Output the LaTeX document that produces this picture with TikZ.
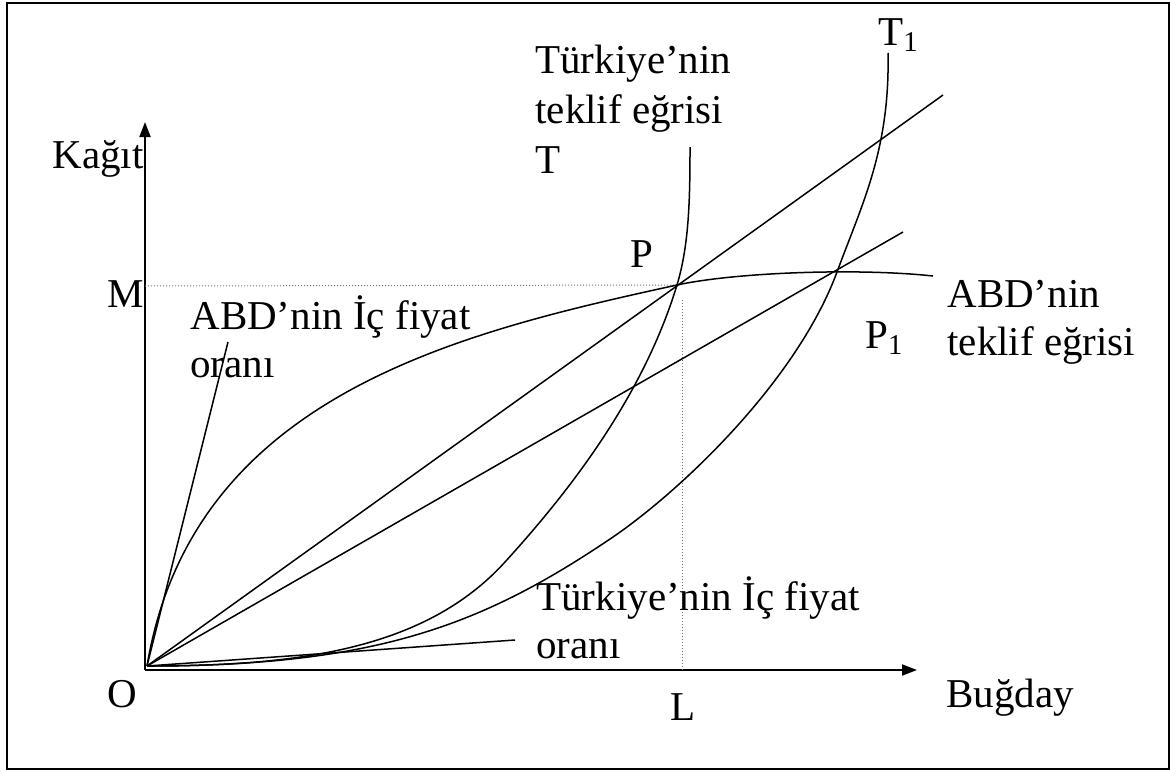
\documentclass[tikz,border=0pt]{standalone}
\usepackage{fontspec}
\setmainfont{Liberation Serif}
\usetikzlibrary{arrows.meta}

\begin{document}
\begin{tikzpicture}[
    x=0.5pt, y=-0.5pt,
    font=\fontsize{20.5}{24}\selectfont,
    lbl/.style={inner sep=0pt, anchor=base west},
    mlbl/.style={lbl, align=left},
    axis/.style={line width=1pt, -{Triangle[length=7.5pt,width=5.5pt]}},
    curve/.style={line width=0.75pt, line join=round},
    guide/.style={densely dotted, line width=0.5pt, black!55}
]
\useasboundingbox (0,0) rectangle (1170,771);

% Frame
\draw[line width=1.25pt] (7,3) rectangle (1169,769);

% Axes
\coordinate (O) at (145,670);
\coordinate (ytop) at (145,122);
\coordinate (xend) at (917,670);
\draw[axis] (O) -- (ytop);
\draw[axis] (O) -- (xend);

% Key points
\coordinate (o) at (147,666);
\coordinate (P) at (677,285);
\coordinate (P1) at (837,272);

% Guide lines to M and L
\coordinate (Mmark) at (145,286);
\coordinate (Ltop) at (682,300);
\coordinate (Lfoot) at (682,670);
\draw[guide] (Mmark) -- (P);
\draw[guide] (Ltop) -- (Lfoot);

% Price ratio lines
\coordinate (abdicEnd) at (228,342);
\coordinate (rayA) at (943,95);
\coordinate (rayB) at (903,232);
\coordinate (tricEnd) at (515,640);
\draw[curve] (o) -- (abdicEnd);
\draw[curve] (o) -- (rayA);
\draw[curve] (o) -- (rayB);
\draw[curve] (o) -- (tricEnd);

% ABD offer curve
\coordinate (abdEnd) at (933,276);
\draw[curve] (o) .. controls (192,396) and (457,333) .. (P)
    .. controls (737,272) and (860,268) .. (abdEnd);

% Turkey offer curve T
\coordinate (Tmid) at (505,562);
\coordinate (Tend) at (690,147);
\draw[curve] (o) .. controls (297,666) and (425,650) .. (Tmid)
    .. controls (565,496) and (642,400) .. (P)
    .. controls (689,245) and (690,200) .. (Tend);

% Turkey offer curve T1
\coordinate (T1mid) at (613,537);
\coordinate (T1end) at (888,53);
\draw[curve] (o) .. controls (377,666) and (483,625) .. (T1mid)
    .. controls (683,489) and (797,380) .. (P1)
    .. controls (862,204) and (890,150) .. (T1end);

% Labels
\node[lbl] (kagit) at (52,168) {Kağıt};
\node[lbl] (Mlbl) at (107,307) {M};
\node[lbl] (Olbl) at (107,707) {O};
\node[lbl, anchor=base] (Llbl) at (683,720) {L};
\node[lbl] (bugday) at (946,707) {Buğday};
\node[lbl] (Plbl) at (630,267) {P};
\node[lbl] (P1lbl) at (865,348) {P\textsubscript{1}};
\node[lbl] (T1lbl) at (878,45) {T\textsubscript{1}};
\node[mlbl, font=\fontsize{20.5}{25}\selectfont] (trteklif) at (535,173)
    {Türkiye’nin\\teklif eğrisi\\T};
\node[mlbl] (abdteklif) at (947,355) {ABD’nin\\teklif eğrisi};
\node[mlbl] (abdic) at (190,377) {ABD’nin İç fiyat\\oranı};
\node[mlbl] (tric) at (536,658) {Türkiye’nin İç fiyat\\oranı};

\end{tikzpicture}
\end{document}
